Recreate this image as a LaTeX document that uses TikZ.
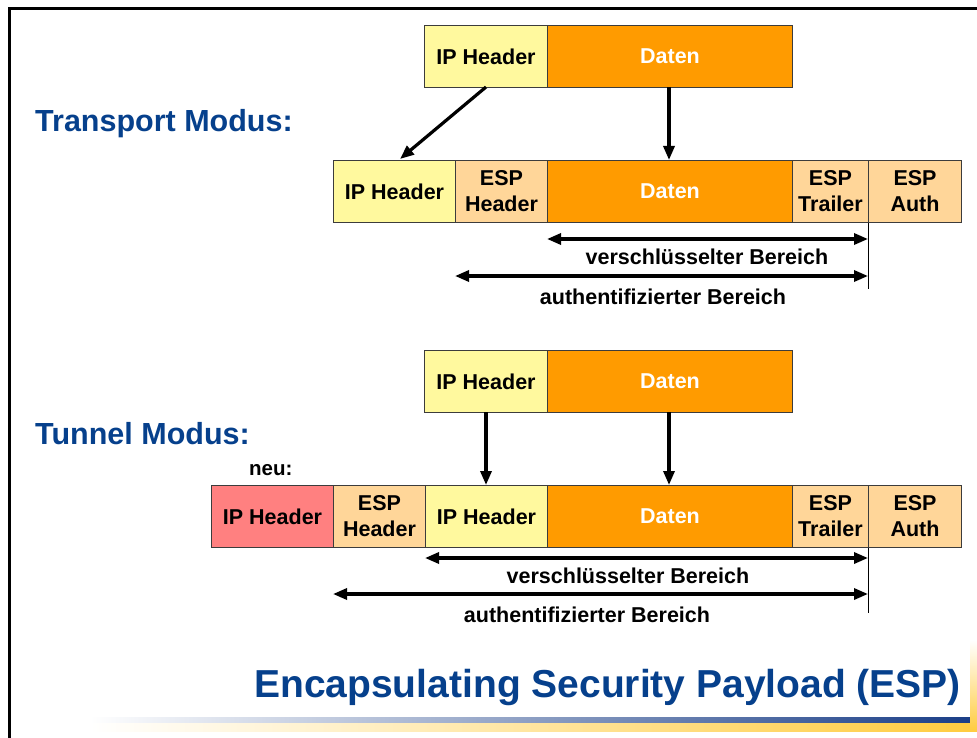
\documentclass[tikz,border=0pt]{standalone}
\usepackage{fontspec}
\setmainfont{Liberation Sans}
\usetikzlibrary{arrows.meta}
\definecolor{ipyel}{RGB}{255,249,158}
\definecolor{datorg}{RGB}{255,155,0}
\definecolor{esppch}{RGB}{255,214,153}
\definecolor{newred}{RGB}{255,128,128}
\definecolor{cellborder}{RGB}{60,60,60}
\definecolor{titleblue}{RGB}{6,64,140}
\definecolor{barblue}{RGB}{26,62,135}
\definecolor{bargold}{RGB}{255,204,64}
\tikzset{
  cell/.style={draw=cellborder, line width=1pt, minimum height=62pt, inner sep=0pt,
    anchor=north west, align=center, font=\fontsize{21.5}{26}\selectfont\bfseries},
  ipcell/.style={cell, fill=ipyel},
  datcell/.style={cell, fill=datorg, text=white},
  espcell/.style={cell, fill=esppch},
  redcell/.style={cell, fill=newred},
  conn/.style={line width=3.2pt, -{Triangle[length=14pt,width=11pt]}},
  spanarrow/.style={line width=3.2pt, {Triangle[length=14pt,width=11pt]}-{Triangle[length=14pt,width=11pt]}},
  tickline/.style={line width=1pt},
  lbl/.style={font=\fontsize{21.5}{25}\selectfont\bfseries, anchor=base, inner sep=0pt},
  heading/.style={font=\fontsize{30.5}{36}\selectfont\bfseries, text=titleblue, anchor=base west, inner sep=0pt}
}
\begin{document}
\begin{tikzpicture}[x=1pt,y=-1pt]
\useasboundingbox (0,0) rectangle (977,738);
\fill[white] (0,0) rectangle (977,738);

% frame
\draw[line width=2.7pt] (9.5,738) -- (9.5,8.5) -- (977,8.5);

% headings
\node[heading] (th) at (35,132) {Transport Modus:};
\node[heading] (tu) at (35,444) {Tunnel Modus:};
\node[font=\fontsize{20.5}{24}\selectfont\bfseries, anchor=base west, inner sep=0pt] (neu) at (249,475) {neu:};

% ---------- Transport: original packet
\node[ipcell, minimum width=123pt] (t0ip) at (424,25) {IP Header};
\node[datcell, minimum width=245pt] (t0d) at (547,25) {Daten};

% ---------- Transport: ESP packet
\node[ipcell, minimum width=122pt] (t1ip) at (333,160) {IP Header};
\node[espcell, minimum width=92pt] (t1eh) at (455,160) {ESP\\Header};
\node[datcell, minimum width=245pt] (t1d) at (547,160) {Daten};
\node[espcell, minimum width=76pt] (t1et) at (792,160) {ESP\\Trailer};
\node[espcell, minimum width=93pt] (t1ea) at (868,160) {ESP\\Auth};

\coordinate (t0ipB) at (486,87);
\coordinate (t1ipT) at (400,159);
\draw[conn] (t0ipB) -- (t1ipT);
\coordinate (t0dB) at (669,87);
\draw[conn] (t0dB) -- (t0dB |- t1d.north);

\coordinate (t1tick) at (868,289);
\draw[tickline] (t1ea.south west) -- (t1tick);
\coordinate (t1vA) at (547,239);
\coordinate (t1vB) at (868,239);
\draw[spanarrow] (t1vA) -- (t1vB);
\coordinate (t1aA) at (455,276);
\coordinate (t1aB) at (868,276);
\draw[spanarrow] (t1aA) -- (t1aB);
\node[lbl] (t1vl) at (707,264) {verschlüsselter Bereich};
\node[lbl] (t1al) at (663,304) {authentifizierter Bereich};

% ---------- Tunnel: original packet
\node[ipcell, minimum width=123pt] (u0ip) at (424,350) {IP Header};
\node[datcell, minimum width=245pt] (u0d) at (547,350) {Daten};

% ---------- Tunnel: ESP packet
\node[redcell, minimum width=122pt] (u1nip) at (211,485) {IP Header};
\node[espcell, minimum width=92pt] (u1eh) at (333,485) {ESP\\Header};
\node[ipcell, minimum width=122pt] (u1ip) at (425,485) {IP Header};
\node[datcell, minimum width=245pt] (u1d) at (547,485) {Daten};
\node[espcell, minimum width=76pt] (u1et) at (792,485) {ESP\\Trailer};
\node[espcell, minimum width=93pt] (u1ea) at (868,485) {ESP\\Auth};

\coordinate (u0ipB) at (486,412);
\draw[conn] (u0ipB) -- (u0ipB |- u1ip.north);
\coordinate (u0dB) at (669,412);
\draw[conn] (u0dB) -- (u0dB |- u1d.north);

\coordinate (u1tick) at (868,613);
\draw[tickline] (u1ea.south west) -- (u1tick);
\coordinate (u1vA) at (425,558);
\coordinate (u1vB) at (868,558);
\draw[spanarrow] (u1vA) -- (u1vB);
\coordinate (u1aA) at (333,594);
\coordinate (u1aB) at (868,594);
\draw[spanarrow] (u1aA) -- (u1aB);
\node[lbl] (u1vl) at (628,583) {verschlüsselter Bereich};
\node[lbl] (u1al) at (587,622) {authentifizierter Bereich};

% ---------- title and bars
\node[font=\fontsize{39}{46}\selectfont\bfseries, text=titleblue, anchor=base east, inner sep=0pt] (title) at (961,697) {Encapsulating Security Payload (ESP)};
\shade[left color=white, right color=barblue] (90,717) rectangle (971,723.5);
\shade[left color=white, right color=bargold] (90,723.5) rectangle (971,731);
\shade[top color=white, bottom color=bargold] (970,640) rectangle (977,731);
\end{tikzpicture}
\end{document}
